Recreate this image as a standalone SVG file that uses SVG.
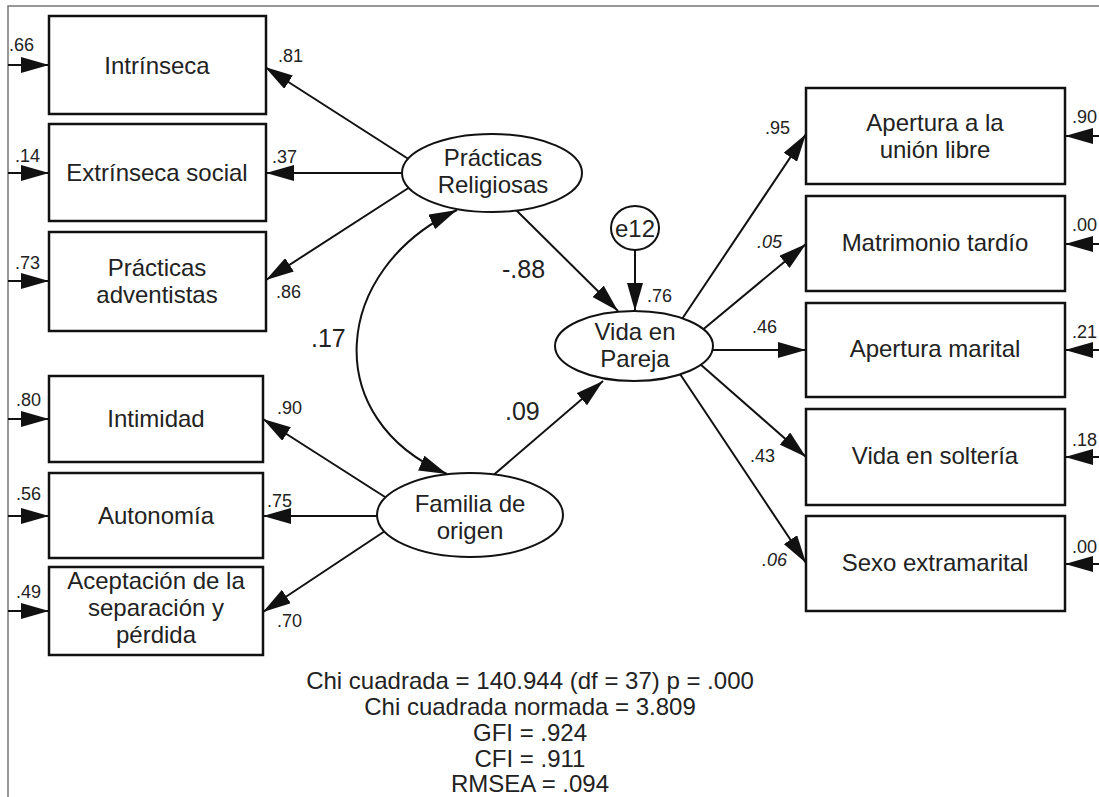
<svg xmlns="http://www.w3.org/2000/svg" width="1099" height="797" viewBox="0 0 1099 797">
<style>
  .box { fill: #fff; stroke: #111; stroke-width: 2.5; }
  .ell { fill: #fff; stroke: #111; stroke-width: 2; }
  .lbl { font-family: "Liberation Sans", Arial, sans-serif; fill: #222; }
  .big { font-size: 24px; text-anchor: middle; }
  .num { font-size: 18px; }
  .coef { font-size: 25px; }
  .it { font-style: italic; }
  .stat { font-size: 24px; text-anchor: middle; }
  .con { fill: none; stroke: #111; stroke-width: 2; }
  .border { stroke: #777; stroke-width: 1.5; fill: none; }
</style>
<defs>
  <marker id="ah" viewBox="0 0 28 16" refX="28" refY="8" markerWidth="28" markerHeight="16" markerUnits="userSpaceOnUse" orient="auto-start-reverse">
    <path d="M0,0 L28,8 L0,16 z" fill="#111"/>
  </marker>
</defs>
<rect width="1099" height="797" fill="#fff"/>
<path class="border" d="M8,797 L8,6 L1099,6"/>

<g id="connectors">
  <line class="con" x1="8" y1="65" x2="49" y2="65" marker-end="url(#ah)"/>
  <line class="con" x1="8" y1="173" x2="49" y2="173" marker-end="url(#ah)"/>
  <line class="con" x1="8" y1="281" x2="49" y2="281" marker-end="url(#ah)"/>
  <line class="con" x1="8" y1="419" x2="49" y2="419" marker-end="url(#ah)"/>
  <line class="con" x1="8" y1="516" x2="49" y2="516" marker-end="url(#ah)"/>
  <line class="con" x1="8" y1="611" x2="49" y2="611" marker-end="url(#ah)"/>
  <line class="con" x1="1099" y1="136" x2="1065" y2="136" marker-end="url(#ah)"/>
  <line class="con" x1="1099" y1="244" x2="1065" y2="244" marker-end="url(#ah)"/>
  <line class="con" x1="1099" y1="350" x2="1065" y2="350" marker-end="url(#ah)"/>
  <line class="con" x1="1099" y1="457" x2="1065" y2="457" marker-end="url(#ah)"/>
  <line class="con" x1="1099" y1="564" x2="1065" y2="564" marker-end="url(#ah)"/>
  <line class="con" x1="410" y1="160" x2="265" y2="67" marker-end="url(#ah)"/>
  <line class="con" x1="405" y1="173" x2="266" y2="173" marker-end="url(#ah)"/>
  <line class="con" x1="410" y1="187" x2="266" y2="280" marker-end="url(#ah)"/>
  <line class="con" x1="385" y1="497" x2="263" y2="419" marker-end="url(#ah)"/>
  <line class="con" x1="380" y1="516" x2="263" y2="516" marker-end="url(#ah)"/>
  <line class="con" x1="385" y1="531" x2="263" y2="612" marker-end="url(#ah)"/>
  <line class="con" x1="514" y1="208" x2="618" y2="311" marker-end="url(#ah)"/>
  <line class="con" x1="490" y1="478" x2="603" y2="381" marker-end="url(#ah)"/>
  <line class="con" x1="635" y1="250" x2="635" y2="311" marker-end="url(#ah)"/>
  <path class="con" d="M457,210 C330,270 320,420 447,474" marker-start="url(#ah)" marker-end="url(#ah)"/>
  <line class="con" x1="680" y1="322" x2="806" y2="134" marker-end="url(#ah)"/>
  <line class="con" x1="700" y1="332" x2="806" y2="244" marker-end="url(#ah)"/>
  <line class="con" x1="708" y1="350" x2="806" y2="350" marker-end="url(#ah)"/>
  <line class="con" x1="700" y1="364" x2="806" y2="457" marker-end="url(#ah)"/>
  <line class="con" x1="680" y1="374" x2="806" y2="563" marker-end="url(#ah)"/>
</g>

<g id="n-intrinseca"><rect class="box" x="49" y="16" width="217" height="98"/><text class="lbl big" x="157" y="74">Intrínseca</text></g>
<g id="n-extrinseca"><rect class="box" x="49" y="124" width="217" height="97"/><text class="lbl big" x="157" y="181">Extrínseca social</text></g>
<g id="n-adventistas"><rect class="box" x="49" y="232" width="217" height="99"/><text class="lbl big" x="157" y="276">Prácticas</text><text class="lbl big" x="157" y="303">adventistas</text></g>
<g id="n-intimidad"><rect class="box" x="49" y="376" width="214" height="86"/><text class="lbl big" x="156" y="427">Intimidad</text></g>
<g id="n-autonomia"><rect class="box" x="49" y="473" width="214" height="85"/><text class="lbl big" x="156" y="524">Autonomía</text></g>
<g id="n-aceptacion"><rect class="box" x="49" y="567" width="214" height="88"/><text class="lbl big" x="156" y="589">Aceptación de la</text><text class="lbl big" x="156" y="616">separación y</text><text class="lbl big" x="156" y="643">pérdida</text></g>

<g id="n-union"><rect class="box" x="806" y="88" width="259" height="96"/><text class="lbl big" x="935" y="131">Apertura a la</text><text class="lbl big" x="935" y="158">unión libre</text></g>
<g id="n-matrimonio"><rect class="box" x="806" y="196" width="259" height="95"/><text class="lbl big" x="935" y="251">Matrimonio tardío</text></g>
<g id="n-marital"><rect class="box" x="806" y="303" width="259" height="94"/><text class="lbl big" x="935" y="357">Apertura marital</text></g>
<g id="n-solteria"><rect class="box" x="806" y="409" width="259" height="96"/><text class="lbl big" x="935" y="464">Vida en soltería</text></g>
<g id="n-sexo"><rect class="box" x="806" y="516" width="259" height="95"/><text class="lbl big" x="935" y="571">Sexo extramarital</text></g>

<g id="n-religiosas"><ellipse class="ell" cx="492" cy="173" rx="90" ry="39"/><text class="lbl big" x="493" y="166">Prácticas</text><text class="lbl big" x="493" y="193">Religiosas</text></g>
<g id="n-familia"><ellipse class="ell" cx="470" cy="515" rx="93" ry="42"/><text class="lbl big" x="470" y="512">Familia de</text><text class="lbl big" x="470" y="539">origen</text></g>
<g id="n-vida"><ellipse class="ell" cx="634" cy="346" rx="79" ry="35"/><text class="lbl big" x="635" y="340">Vida en</text><text class="lbl big" x="635" y="367">Pareja</text></g>
<g id="n-e12"><ellipse class="ell" cx="635" cy="228" rx="24" ry="22"/><text class="lbl big" x="635" y="237">e12</text></g>

<g id="labels">
  <text class="lbl num" x="9" y="51">.66</text>
  <text class="lbl num" x="15" y="162">.14</text>
  <text class="lbl num" x="15" y="269">.73</text>
  <text class="lbl num" x="16" y="406">.80</text>
  <text class="lbl num" x="16" y="500">.56</text>
  <text class="lbl num" x="16" y="598">.49</text>

  <text class="lbl num" x="1072" y="123">.90</text>
  <text class="lbl num" x="1072" y="231">.00</text>
  <text class="lbl num" x="1072" y="338">.21</text>
  <text class="lbl num" x="1072" y="446">.18</text>
  <text class="lbl num" x="1072" y="553">.00</text>

  <text class="lbl num" x="278" y="62">.81</text>
  <text class="lbl num" x="272" y="163">.37</text>
  <text class="lbl num" x="276" y="298">.86</text>
  <text class="lbl num" x="277" y="414">.90</text>
  <text class="lbl num" x="267" y="507">.75</text>
  <text class="lbl num" x="277" y="627">.70</text>

  <text class="lbl num" x="647" y="302">.76</text>
  <text class="lbl num" x="765" y="134">.95</text>
  <text class="lbl num it" x="757" y="248">.05</text>
  <text class="lbl num" x="752" y="333">.46</text>
  <text class="lbl num" x="750" y="462">.43</text>
  <text class="lbl num it" x="762" y="566">.06</text>

  <text class="lbl coef" x="502" y="278">-.88</text>
  <text class="lbl coef" x="505" y="420">.09</text>
  <text class="lbl coef" x="311" y="347">.17</text>

  <text class="lbl stat" x="530" y="689">Chi cuadrada = 140.944 (df = 37) p = .000</text>
  <text class="lbl stat" x="530" y="715">Chi cuadrada normada = 3.809</text>
  <text class="lbl stat" x="530" y="741">GFI = .924</text>
  <text class="lbl stat" x="530" y="767">CFI = .911</text>
  <text class="lbl stat" x="530" y="792">RMSEA = .094</text>
</g>
</svg>
